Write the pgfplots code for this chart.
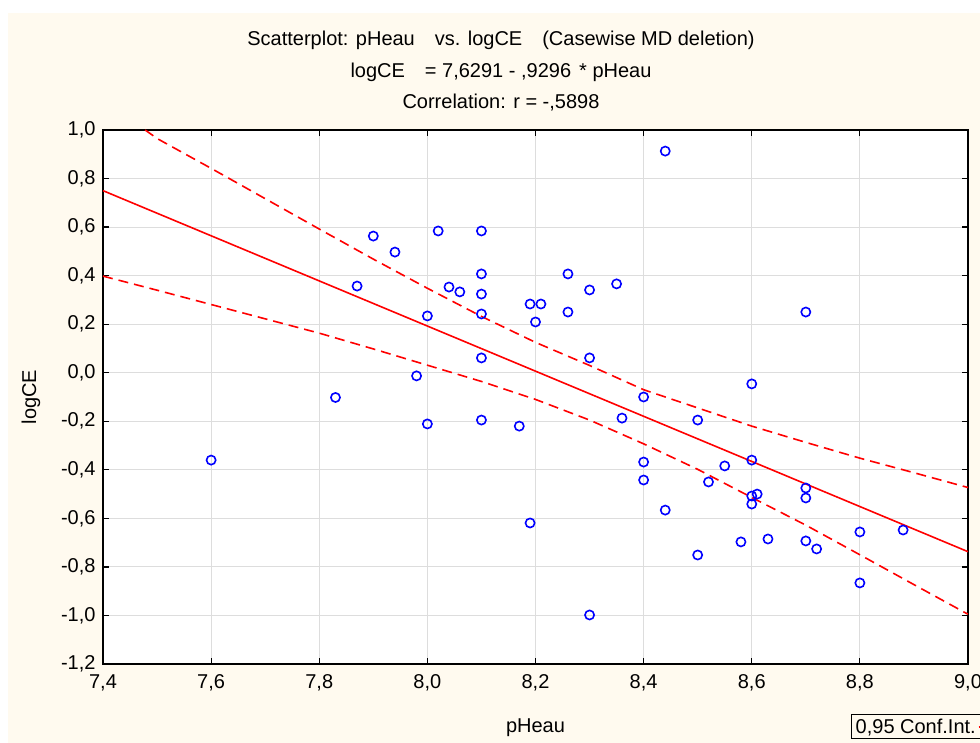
\documentclass[border=0pt]{standalone}
\usepackage{pgfplots}
\pgfplotsset{compat=1.18}
\usepackage{fontspec}
\setmainfont{Liberation Sans}
\definecolor{cream}{RGB}{255,250,239}
\definecolor{ptblue}{RGB}{0,0,255}
\definecolor{fitred}{RGB}{255,0,0}
\definecolor{gridgray}{RGB}{221,221,221}

\begin{document}
\begin{tikzpicture}
\fill[white] (0pt,0pt) rectangle (980pt,743pt);
\fill[cream] (8pt,0pt) rectangle (980pt,730pt);
\node[font=\fontsize{20}{24}\selectfont] at (501pt,703pt) {Scatterplot: pHeau\hspace{1em}vs. logCE\hspace{1em}(Casewise MD deletion)};
\node[font=\fontsize{20}{24}\selectfont] at (501pt,671pt) {logCE\hspace{1em}= 7,6291 - ,9296\hspace{0.4em}* pHeau};
\node[font=\fontsize{20}{24}\selectfont] at (501pt,640pt) {Correlation: r = -,5898};
\begin{axis}[
    at={(103pt,79pt)}, anchor=south west,
    width=865pt, height=534pt, scale only axis,
    xmin=7.4, xmax=9.0, ymin=-1.2, ymax=1.0,
    axis background/.style={fill=white},
    axis line style={black, line width=1.8pt},
    xtick={7.4,7.6,7.8,8.0,8.2,8.4,8.6,8.8,9.0},
    xticklabels={{7,4},{7,6},{7,8},{8,0},{8,2},{8,4},{8,6},{8,8},{9,0}},
    ytick={-1.2,-1.0,-0.8,-0.6,-0.4,-0.2,0,0.2,0.4,0.6,0.8,1.0},
    yticklabels={{-1,2},{-1,0},{-0,8},{-0,6},{-0,4},{-0,2},{0,0},{0,2},{0,4},{0,6},{0,8},{1,0}},
    tick align=inside, major tick length=6pt,
    tick style={black, line width=1.2pt},
    grid=major, major grid style={draw=gridgray, line width=0.9pt},
    tick label style={font=\fontsize{20}{24}\selectfont},
    x tick label style={yshift=-7pt},
    y tick label style={xshift=-4pt},
    xlabel={pHeau}, ylabel={logCE},
    label style={font=\fontsize{20}{24}\selectfont},
    x label style={at={(axis description cs:0.5,-0.1199)}, anchor=center},
    y label style={at={(axis description cs:-0.0832,0.5)}, anchor=center},
    legend plot pos=right,
    legend style={at={(axis description cs:0.8647,-0.0936)}, anchor=north west,
        draw=black, line width=1.5pt, fill=cream,
        font=\fontsize{20}{24}\selectfont, inner sep=2pt},
    clip=true,
]
% regression line
\addplot[fitred, line width=1.6pt, forget plot] coordinates {(7.4,0.7501) (9.0,-0.7373)};
% 0.95 confidence band
\addplot[fitred, line width=1.6pt, dash pattern=on 10pt off 6pt] coordinates {
    (7.478,1.0) (7.5,0.965) (7.6,0.842) (7.7,0.717) (7.8,0.592) (7.9,0.468)
    (8.0,0.348) (8.1,0.232) (8.2,0.125) (8.3,0.030) (8.4,-0.070) (8.5,-0.145)
    (8.6,-0.220) (8.7,-0.287) (8.8,-0.352) (8.9,-0.412) (9.0,-0.473)
};
\addlegendentry{0,95 Conf.Int.}
\addplot[fitred, line width=1.6pt, dash pattern=on 10pt off 6pt, forget plot] coordinates {
    (7.4,0.398) (7.5,0.340) (7.6,0.281) (7.7,0.222) (7.8,0.163) (7.9,0.098)
    (8.0,0.031) (8.1,-0.036) (8.2,-0.110) (8.3,-0.195) (8.4,-0.293) (8.5,-0.398)
    (8.6,-0.514) (8.7,-0.628) (8.8,-0.750) (8.9,-0.873) (9.0,-0.995)
};
% observations
\addplot[only marks, mark=o, mark size=4.6pt, ptblue, line width=1.6pt, forget plot] coordinates {
    (7.60,-0.360) (7.83,-0.102) (7.87,0.357) (7.90,0.563) (7.94,0.497)
    (7.98,-0.013) (8.00,0.234) (8.00,-0.211) (8.02,0.584) (8.04,0.353)
    (8.06,0.333) (8.10,0.584) (8.10,0.407) (8.10,0.324) (8.10,0.242)
    (8.10,0.061) (8.10,-0.195) (8.17,-0.220) (8.19,0.283) (8.21,0.283)
    (8.20,0.209) (8.19,-0.619) (8.26,0.407) (8.26,0.250) (8.30,0.341)
    (8.30,0.061) (8.30,-0.998) (8.35,0.366) (8.36,-0.187) (8.40,-0.100)
    (8.40,-0.368) (8.40,-0.442) (8.44,0.913) (8.44,-0.566) (8.50,-0.195)
    (8.50,-0.751) (8.55,-0.384) (8.52,-0.450) (8.58,-0.697) (8.60,-0.046)
    (8.60,-0.360) (8.60,-0.508) (8.60,-0.541) (8.61,-0.500) (8.63,-0.685)
    (8.70,0.250) (8.70,-0.475) (8.70,-0.516) (8.70,-0.693) (8.72,-0.726)
    (8.80,-0.656) (8.80,-0.866) (8.88,-0.648)
};
\end{axis}
\pgfresetboundingbox
\useasboundingbox (0pt,0pt) rectangle (980pt,743pt);
\end{tikzpicture}
\end{document}
